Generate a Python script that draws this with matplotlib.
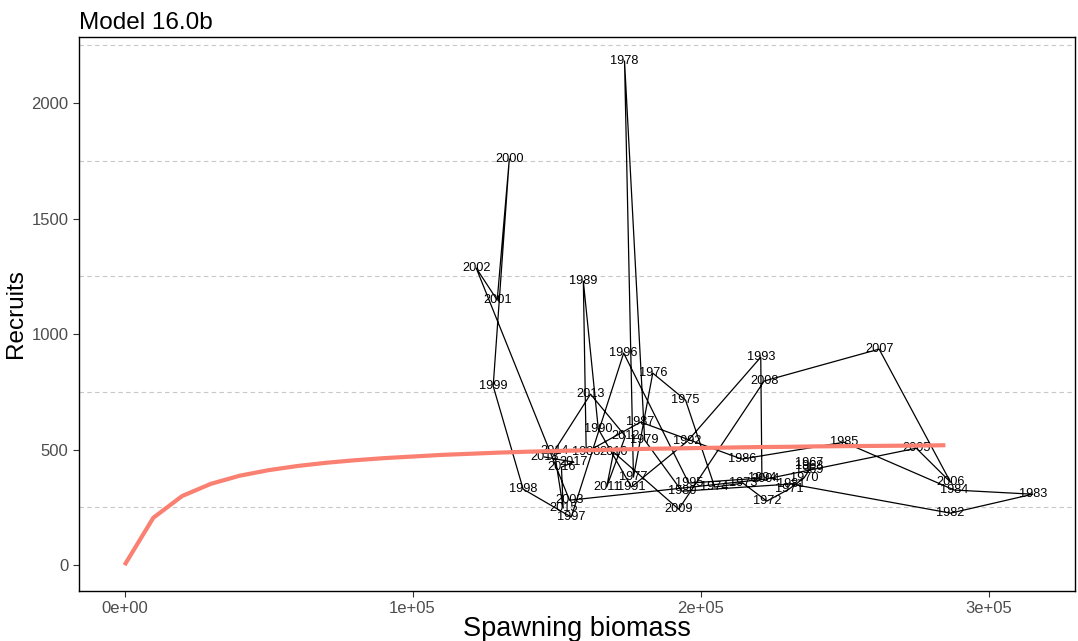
import numpy as np
import matplotlib.pyplot as plt
from matplotlib.ticker import FuncFormatter

plt.rcParams['font.family'] = ['Liberation Sans', 'DejaVu Sans']

# Year-by-year spawning biomass (thousands) and recruits
years = list(range(1967, 2019))
biomass_k = [237.7, 237.7, 237.7, 235.9, 230.7, 223.0, 214.7, 204.9, 194.8, 183.4,
             176.7, 173.6, 180.6, 193.5, 231.4, 286.8, 315.3, 288.1, 249.8, 214.3,
             179.2, 160.3, 159.3, 164.5, 176.0, 195.5, 220.9, 221.3, 195.9, 173.3,
             155.1, 138.4, 128.0, 133.6, 129.4, 122.1, 154.5, 222.4, 274.9, 286.8,
             262.0, 222.1, 192.4, 169.8, 167.4, 173.9, 161.8, 149.2, 152.3, 151.7,
             155.9, 145.8]
recruits = [442, 429, 411, 377, 329, 277, 355, 338, 714, 831,
            381, 2182, 541, 320, 351, 225, 307, 325, 532, 459,
            619, 489, 1229, 589, 338, 537, 900, 377, 355, 918,
            208, 329, 775, 1758, 1147, 1286, 281, 372, 506, 359,
            935, 797, 242, 489, 338, 558, 740, 494, 247, 424,
            446, 468]

# Fitted stock-recruit curve
curve_ssb_k = [0, 10, 20, 30, 40, 50, 60, 70, 80, 90, 100, 110, 120, 130, 140,
               150, 160, 170, 180, 190, 200, 210, 220, 230, 240, 250, 260, 270,
               280, 285]
curve_rec = [0, 205, 299, 352, 387, 411, 429, 443, 454, 463, 470, 477, 482, 487,
             491, 494, 497, 500, 503, 505, 507, 509, 511, 512, 514, 515, 516, 517,
             518, 519]

ssb = np.array(biomass_k) * 1000
curve_ssb = np.array(curve_ssb_k) * 1000

fig = plt.figure(figsize=(10.78, 6.41), dpi=100)
ax = fig.add_axes([0.0733, 0.078, 0.9239, 0.8643])

# dashed minor gridlines only
for yv in [250, 750, 1250, 1750, 2250]:
    ax.axhline(yv, color='#C8C8C8', linestyle=(0, (4, 3)), linewidth=0.8, zorder=0)

ax.plot(ssb, recruits, color='black', linewidth=0.9, zorder=2)
for yr, xv, yv in zip(years, ssb, recruits):
    ax.text(xv, yv, str(yr), ha='center', va='center', fontsize=9.2, color='black', zorder=3)

ax.plot(curve_ssb, curve_rec, color='#FA8072', linewidth=3, zorder=4, solid_capstyle='butt')

ax.set_xlim(-15800, 330000)
ax.set_ylim(-112, 2286)
ax.set_xticks([0, 100000, 200000, 300000])
ax.xaxis.set_major_formatter(FuncFormatter(lambda v, p: f'{v:.0e}'))
ax.set_yticks([0, 500, 1000, 1500, 2000])

ax.tick_params(axis='both', direction='out', length=4, width=0.8, color='#333333',
               labelcolor='#4D4D4D', labelsize=12)
for sp in ax.spines.values():
    sp.set_color('black')
    sp.set_linewidth(1)

ax.set_xlabel('Spawning biomass', fontsize=19.5, labelpad=0)
ax.set_ylabel('Recruits', fontsize=17.5, labelpad=3)
ax.set_title('Model 16.0b', fontsize=17.5, loc='left', pad=6)

fig.savefig('out.png', dpi=100)
